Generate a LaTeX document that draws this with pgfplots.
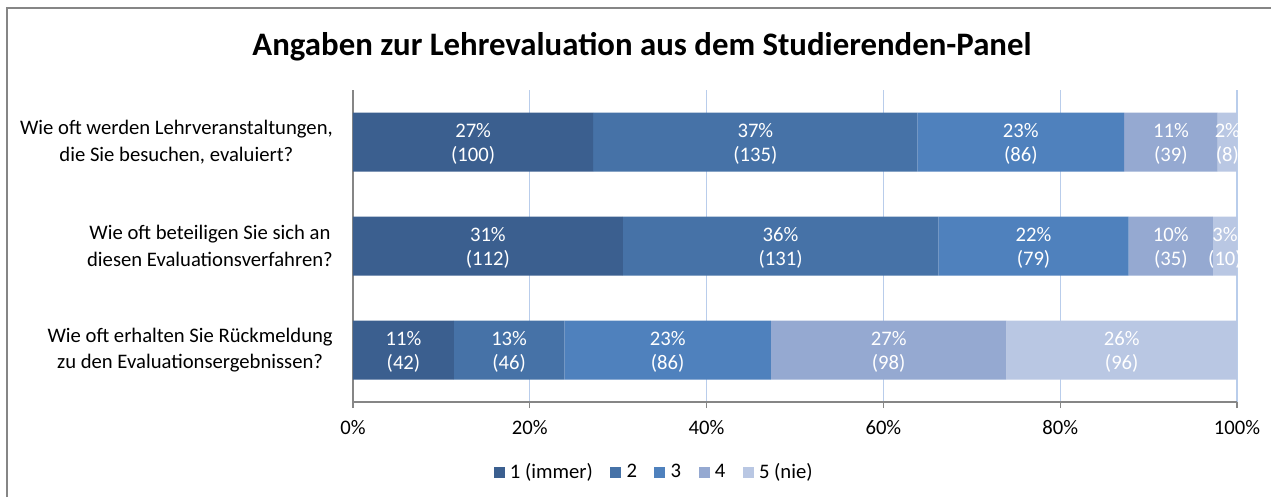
\documentclass[border=0pt]{standalone}
\usepackage{fontspec}
\setmainfont{Carlito}
\usepackage{pgfplots}
\usepackage{pgfplotstable}
\pgfplotsset{compat=1.18}
\definecolor{c1}{RGB}{59,95,143}
\definecolor{c2}{RGB}{70,114,167}
\definecolor{c3}{RGB}{79,129,189}
\definecolor{c4}{RGB}{149,169,209}
\definecolor{c5}{RGB}{185,199,227}
\definecolor{gridc}{RGB}{185,205,235}
\definecolor{axc}{RGB}{134,134,134}
\newcommand{\lf}{\fontsize{15.5}{20}\selectfont}
\pgfplotstableread{
y  s1    s2    s3    s4    s5
2  27.17 36.68 23.37 10.60 2.18
1  30.52 35.69 21.53 9.54  2.72
0  11.41 12.50 23.37 26.63 26.09
}\datatable
\pgfplotstableread{
y  cx     pct cnt
2  13.59  27  100
2  45.52  37  135
2  75.54  23  86
2  92.53  11  39
2  98.91  2   8
1  15.26  31  112
1  48.37  36  131
1  76.98  22  79
1  92.51  10  35
1  98.64  3   10
0  5.71   11  42
0  17.66  13  46
0  35.60  23  86
0  60.60  27  98
0  86.96  26  96
}\labeltable
\begin{document}
\begin{tikzpicture}
\begin{scope}[x=0.75pt,y=-0.75pt]
\useasboundingbox (0,0) rectangle (1271,497);
\fill[white] (0,0) rectangle (1271,497);
\draw[axc, line width=1.1pt] (7,497) -- (7,8) -- (1271,8);
\node[anchor=base, font=\bfseries\fontsize{24.6}{29}\selectfont] at (642,55) {Angaben zur Lehrevaluation aus dem Studierenden-Panel};
\end{scope}
\pgfplotsset{sq/.style={legend image code/.code={\fill[##1] (0pt,-4.1pt) rectangle (8.25pt,4.1pt);}}}
\begin{axis}[
  at={(264.75pt,-301.5pt)}, anchor=south west,
  scale only axis, width=663pt, height=234pt,
  xbar stacked, bar width=44.25pt,
  xmin=0, xmax=100, ymin=-0.5, ymax=2.5,
  axis x line=bottom, axis y line=left,
  axis line style={-, axc, line width=0.8pt},
  xtick={0,20,40,60,80,100},
  xticklabels={0\%,20\%,40\%,60\%,80\%,100\%},
  tick align=outside, major tick length=4.5pt,
  xtick style={axc, line width=0.8pt},
  ytick={0,1,2},
  yticklabels={{Wie oft erhalten Sie Rückmeldung\\zu den Evaluationsergebnissen?},
               {Wie oft beteiligen Sie sich an\\diesen Evaluationsverfahren?},
               {Wie oft werden Lehrveranstaltungen,\\die Sie besuchen, evaluiert?}},
  ytick style={draw=none},
  yticklabel style={align=center, font=\lf, inner sep=0pt, anchor=east, xshift=-10.5pt},
  xticklabel style={font=\lf, anchor=base, inner sep=0pt, yshift=-19.5pt},
  /pgf/number format/assume math mode=true,
  xmajorgrids, major grid style={gridc, line width=0.8pt},
  legend columns=5,
  legend style={at={(0.341,-0.225)}, anchor=center, draw=none, fill=none, font=\lf,
    /tikz/every even column/.append style={column sep=11pt},
    nodes={inner sep=2pt}},
]
\addplot[fill=c1, draw=none, sq] table[x=s1, y=y] {\datatable};
\addplot[fill=c2, draw=none, sq] table[x=s2, y=y] {\datatable};
\addplot[fill=c3, draw=none, sq] table[x=s3, y=y] {\datatable};
\addplot[fill=c4, draw=none, sq] table[x=s4, y=y] {\datatable};
\addplot[fill=c5, draw=none, sq] table[x=s5, y=y] {\datatable};
\legend{\hspace{2pt}1 (immer),\hspace{2pt}2,\hspace{2pt}3,\hspace{2pt}4,\hspace{2pt}5 (nie)}
\end{axis}
\begin{axis}[
  at={(264.75pt,-301.5pt)}, anchor=south west,
  scale only axis, width=663pt, height=234pt,
  xmin=0, xmax=100, ymin=-0.5, ymax=2.5,
  hide axis,
  /pgf/number format/assume math mode=true,
  nodes near coords style={font=\lf, text=white, inner sep=0pt, anchor=base},
]
\addplot[draw=none, mark=none, nodes near coords={\pgfmathprintnumber[fixed,precision=0,assume math mode=true]{\pgfplotspointmeta}\%},
  point meta=explicit, every node near coord/.append style={yshift=3.4pt}]
  table[x=cx, y=y, meta=pct] {\labeltable};
\addplot[draw=none, mark=none, nodes near coords={(\pgfmathprintnumber[fixed,precision=0,assume math mode=true]{\pgfplotspointmeta})},
  point meta=explicit, every node near coord/.append style={yshift=-14.6pt}]
  table[x=cx, y=y, meta=cnt] {\labeltable};
\end{axis}
\end{tikzpicture}
\end{document}
